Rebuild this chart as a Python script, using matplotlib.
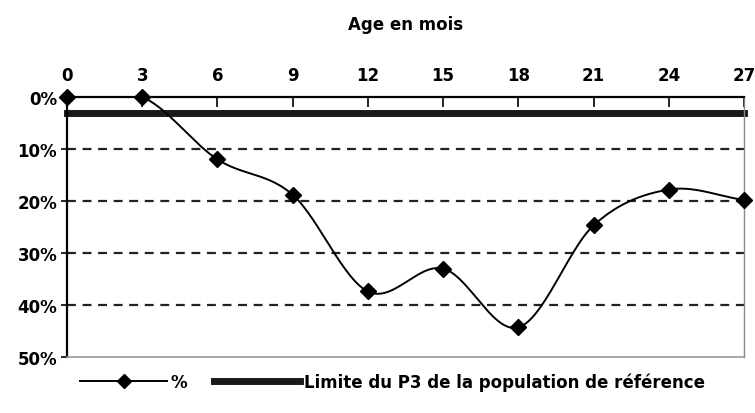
import numpy as np
import matplotlib
matplotlib.use("Agg")
import matplotlib.pyplot as plt
from matplotlib.lines import Line2D
from matplotlib.ticker import FuncFormatter

plt.rcParams['font.family'] = ['DejaVu Sans']

age_months = [0, 3, 6, 9, 12, 15, 18, 21, 24, 27]
pct_values = [0.0, 0.0, 12.0, 18.8, 37.4, 33.0, 44.3, 24.7, 17.8, 19.8]
p3_limit = 3.0
y_ticks = [0, 10, 20, 30, 40, 50]
x_title = "Age en mois"
series_label = "%"
limit_label = "Limite du P3 de la population de référence"


def catmull_rom(x, y, n=30):
    x = np.asarray(x, float)
    y = np.asarray(y, float)
    px = np.concatenate([[2 * x[0] - x[1]], x, [2 * x[-1] - x[-2]]])
    py = np.concatenate([[2 * y[0] - y[1]], y, [2 * y[-1] - y[-2]]])
    xs, ys = [], []
    for i in range(1, len(px) - 2):
        t = np.linspace(0, 1, n, endpoint=False)
        for arr, out in ((px, xs), (py, ys)):
            p0, p1, p2, p3 = arr[i - 1], arr[i], arr[i + 1], arr[i + 2]
            out.append(0.5 * ((2 * p1) + (-p0 + p2) * t
                              + (2 * p0 - 5 * p1 + 4 * p2 - p3) * t ** 2
                              + (-p0 + 3 * p1 - 3 * p2 + p3) * t ** 3))
    xs.append([x[-1]])
    ys.append([y[-1]])
    return np.concatenate(xs), np.concatenate(ys)


fig = plt.figure(figsize=(7.55, 4.14), dpi=100)
ax = fig.add_axes([67 / 755, 1 - 358 / 414, (744 - 67) / 755, (358 - 98) / 414])

ax.set_xlim(age_months[0], age_months[-1])
ax.set_ylim(y_ticks[-1], y_ticks[0])

for yv in y_ticks[1:-1]:
    ax.axhline(yv, color='#222222', lw=1.6, ls=(0, (4, 3)), zorder=1)

ax.axhline(p3_limit, color='#1a1a1a', lw=5, zorder=2, clip_on=False)

sx, sy = catmull_rom(age_months, pct_values)
ax.plot(sx, sy, color='black', lw=1.4, zorder=3)
ax.plot(age_months, pct_values, ls='none', marker='D', ms=8, color='black',
        zorder=5, clip_on=False)

ax.xaxis.tick_top()
ax.xaxis.set_label_position('top')
ax.set_xticks(age_months)
ax.set_yticks(y_ticks)
ax.yaxis.set_major_formatter(FuncFormatter(lambda v, p: f"{int(v)}%"))
ax.tick_params(axis='x', direction='in', length=7, width=1.2, pad=9, labelsize=12)
ax.tick_params(axis='y', direction='out', length=4, width=1.2, pad=3, labelsize=12)
for lab in ax.get_xticklabels() + ax.get_yticklabels():
    lab.set_fontweight('bold')

ax.set_xlabel(x_title, fontsize=12, fontweight='bold', labelpad=27)

ax.spines['top'].set_linewidth(1.6)
ax.spines['left'].set_linewidth(1.6)
ax.spines['right'].set_color('#888888')
ax.spines['right'].set_linewidth(1.0)
ax.spines['bottom'].set_color('#999999')
ax.spines['bottom'].set_linewidth(1.2)

handles = [Line2D([], [], color='black', lw=1.4, marker='D', ms=7),
           Line2D([], [], color='#1a1a1a', lw=5)]
fig.legend(handles, [series_label, limit_label], loc='center', ncol=2,
           bbox_to_anchor=(0.52, 1 - 383 / 414), frameon=False, handlelength=5.2,
           columnspacing=1.6, handletextpad=0.2,
           prop={'weight': 'bold', 'size': 12})

fig.savefig("out.png", dpi=100)
